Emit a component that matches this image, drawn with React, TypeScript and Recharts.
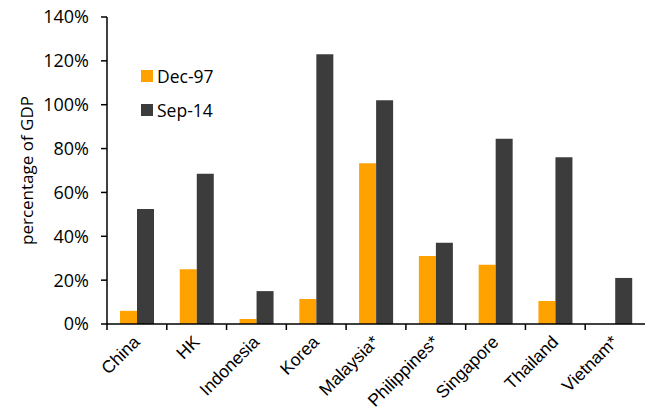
import { BarChart, Bar, XAxis, YAxis, Legend } from 'recharts';

const countries = ['China', 'HK', 'Indonesia', 'Korea', 'Malaysia*', 'Philippines*', 'Singapore', 'Thailand', 'Vietnam*'];
const dec97 = [6, 25, 2.3, 11.4, 73.3, 31, 27, 10.5, 0];
const sep14 = [52.5, 68.5, 15, 123, 102, 37, 84.5, 76, 21];
const yTicks = [0, 20, 40, 60, 80, 100, 120, 140];

const data = countries.map((name, i) => ({ name, dec97: dec97[i], sep14: sep14[i] }));

const ORANGE = '#FFA200';
const DARK = '#3C3C3C';
const W = 645;
const H = 412;
const LEFT = 107;
const RIGHT = 0;
const band = (W - LEFT - RIGHT) / countries.length;
const FONT = "'Open Sans', sans-serif";

function CountryTick(props: any) {
  const { x, y, payload } = props;
  const bx = x - band / 2;
  return (
    <g>
      <line x1={bx} y1={y - 8} x2={bx} y2={y - 2} stroke="#000" strokeWidth={1.5} />
      <text
        x={x + 4}
        y={y + 11}
        textAnchor="end"
        transform={`rotate(-45 ${x + 4} ${y + 11})`}
        fontFamily="'Liberation Sans', Arial, sans-serif"
        fontSize={17.5}
        fill="#000"
      >
        {payload.value}
      </text>
    </g>
  );
}

function LegendBox() {
  const items = [
    { label: 'Dec-97', color: ORANGE },
    { label: 'Sep-14', color: DARK },
  ];
  return (
    <div style={{ fontFamily: FONT, fontSize: 17.5, color: '#000' }}>
      {items.map((it) => (
        <div key={it.label} style={{ display: 'flex', alignItems: 'center', height: 34 }}>
          <span style={{ width: 12, height: 12, background: it.color, display: 'inline-block', marginRight: 4 }} />
          <span>{it.label}</span>
        </div>
      ))}
    </div>
  );
}

export default function App() {
  return (
    <div style={{ position: 'absolute', left: 0, top: 0, width: W, height: H, background: '#fff' }}>
      <BarChart
        width={W}
        height={H}
        data={data}
        margin={{ top: 17, right: RIGHT, left: 27, bottom: 0 }}
        barGap={0}
        barSize={17}
      >
        <XAxis
          dataKey="name"
          interval={0}
          height={88}
          axisLine={{ stroke: '#000', strokeWidth: 1.5 }}
          tickLine={false}
          tick={<CountryTick />}
        />
        <YAxis
          width={80}
          domain={[0, 140]}
          ticks={yTicks}
          interval={0}
          tickFormatter={(v: number) => `${v}%`}
          axisLine={{ stroke: '#000', strokeWidth: 1.5 }}
          tickLine={{ stroke: '#000', strokeWidth: 1.5 }}
          tickSize={6}
          tickMargin={12}
          tick={{ fill: '#000', fontSize: 18, fontFamily: FONT }}
          label={{
            value: 'percentage of GDP',
            angle: -90,
            position: 'insideLeft',
            offset: 0,
            style: { textAnchor: 'middle', fill: '#000', fontSize: 17, fontFamily: FONT },
          }}
        />
        <Legend
          layout="vertical"
          verticalAlign="middle"
          align="center"
          content={<LegendBox />}
          wrapperStyle={{ position: 'absolute', left: 141, top: 59, width: 120 }}
        />
        <Bar dataKey="dec97" name="Dec-97" fill={ORANGE} isAnimationActive={false} />
        <Bar dataKey="sep14" name="Sep-14" fill={DARK} isAnimationActive={false} />
      </BarChart>
    </div>
  );
}
